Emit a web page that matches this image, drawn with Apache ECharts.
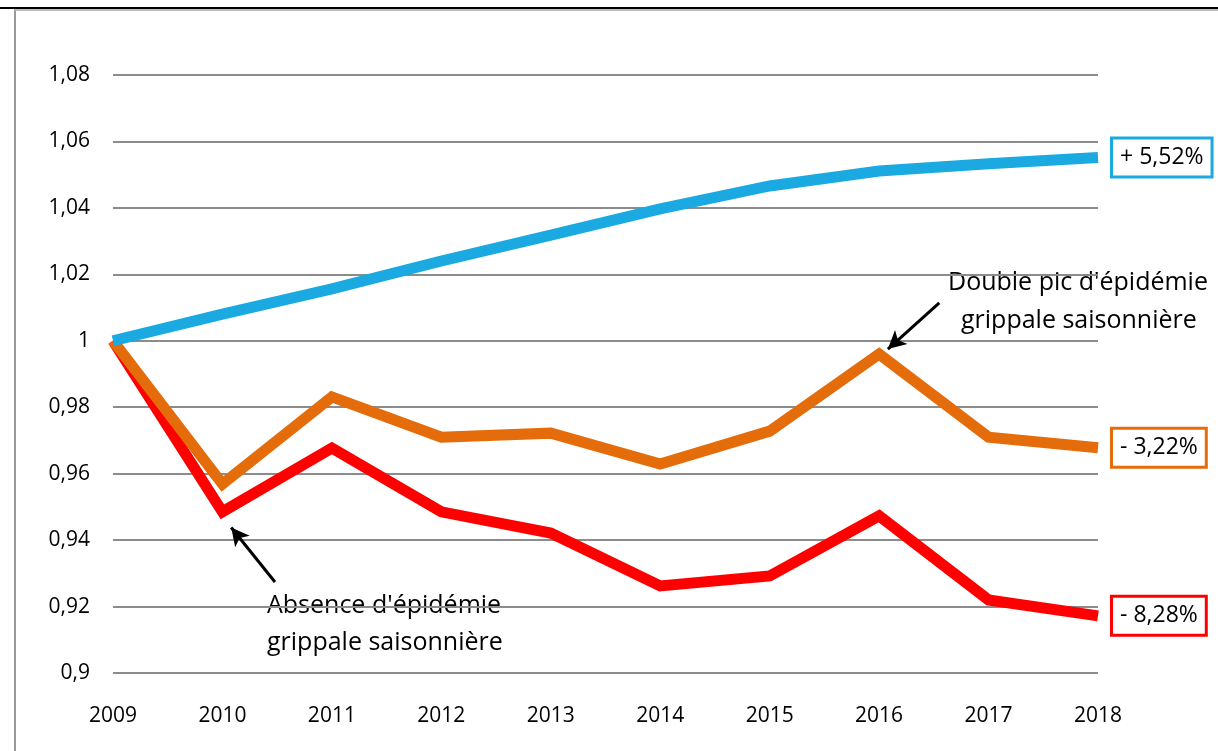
<!DOCTYPE html>
<html>
<head>
<meta charset="utf-8">
<script src="https://cdn.jsdelivr.net/npm/echarts@6/dist/echarts.min.js"></script>
<style>
  html, body { margin: 0; padding: 0; background: #fff; }
  #chart { width: 1218px; height: 751px; }
</style>
</head>
<body>
<div id="chart"></div>
<script>
const years = [2009, 2010, 2011, 2012, 2013, 2014, 2015, 2016, 2017, 2018];
const blueValues = [1.0, 1.008, 1.0156, 1.024, 1.0318, 1.0397, 1.0466, 1.0511, 1.0533, 1.0552];
const orangeValues = [1.0, 0.9569, 0.9831, 0.971, 0.9722, 0.9629, 0.9728, 0.996, 0.971, 0.9678];
const redValues = [1.0, 0.9485, 0.9677, 0.9485, 0.9421, 0.9262, 0.9292, 0.9473, 0.922, 0.9172];
const endLabels = ['+ 5,52%', '- 3,22%', '- 8,28%'];

const font = '"Open Sans", "Noto Sans", sans-serif';
const chart = echarts.init(document.getElementById('chart'), null, { renderer: 'canvas' });

const pairs = (vals) => years.map((y, i) => [y, vals[i]]);

const lineSeries = (name, vals, color, label) => ({
  name,
  type: 'line',
  data: pairs(vals),
  symbol: 'none',
  lineStyle: { color, width: 11, join: 'miter', cap: 'butt' },
  z: 3,
  endLabel: {
    show: true,
    formatter: label,
    color: '#000',
    fontFamily: font,
    fontSize: 23,
    backgroundColor: '#fff',
    borderColor: color,
    borderWidth: 3,
    padding: [7, 7, 6, 7],
    distance: 15
  }
});

const arrow = (from, to) => ({
  type: 'line',
  data: [],
  silent: true,
  markLine: {
    silent: true,
    symbol: ['none', 'arrow'],
    symbolSize: [14, 18],
    lineStyle: { color: '#000', width: 3, type: 'solid' },
    label: { show: false },
    data: [[{ coord: from }, { coord: to }]]
  }
});

chart.setOption({
  animation: false,
  grid: { left: 113, right: 120, top: 75, bottom: 78 },
  xAxis: {
    type: 'value',
    min: 2009,
    max: 2018,
    interval: 1,
    axisLine: { show: false },
    axisTick: { show: false },
    splitLine: { show: false },
    axisLabel: {
      margin: 33,
      color: '#000',
      fontFamily: font,
      fontSize: 21,
      formatter: (v) => String(v)
    }
  },
  yAxis: {
    type: 'value',
    min: 0.9,
    max: 1.08,
    interval: 0.02,
    axisLine: { show: false },
    axisTick: { show: false },
    splitLine: { lineStyle: { color: '#8c8c8c', width: 2 } },
    axisLabel: {
      margin: 23,
      color: '#000',
      fontFamily: font,
      fontSize: 21,
      formatter: (v) => String(parseFloat(v.toFixed(2))).replace('.', ',')
    }
  },
  graphic: [
    { type: 'line', shape: { x1: 0, y1: 8, x2: 1218, y2: 8 }, style: { stroke: '#000', lineWidth: 2 } },
    { type: 'line', shape: { x1: 15, y1: 9, x2: 15, y2: 751 }, style: { stroke: '#999', lineWidth: 2 } },
    { type: 'line', shape: { x1: 15, y1: 10, x2: 1218, y2: 10 }, style: { stroke: '#bbb', lineWidth: 2 } },
    {
      type: 'text', left: 948, top: 270,
      style: { text: "Double pic d'épidémie", font: '25px ' + font, fill: '#000' }
    },
    {
      type: 'text', left: 961, top: 308,
      style: { text: 'grippale saisonnière', font: '25px ' + font, fill: '#000' }
    },
    {
      type: 'text', left: 267, top: 593,
      style: { text: "Absence d'épidémie", font: '25px ' + font, fill: '#000' }
    },
    {
      type: 'text', left: 267, top: 630,
      style: { text: 'grippale saisonnière', font: '25px ' + font, fill: '#000' }
    }
  ],
  series: [
    lineSeries('red', redValues, '#ff0000', endLabels[2]),
    lineSeries('orange', orangeValues, '#e46c0a', endLabels[1]),
    lineSeries('blue', blueValues, '#1aa9e0', endLabels[0]),
    arrow([2016.55, 1.0114], [2016.08, 0.9975]),
    arrow([2010.48, 0.9274], [2010.08, 0.9438])
  ]
});
</script>
</body>
</html>
